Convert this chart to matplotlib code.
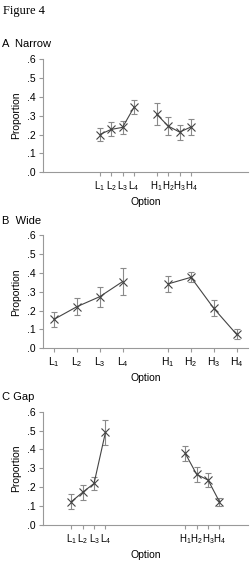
import matplotlib
matplotlib.use('Agg')
import matplotlib.pyplot as plt

plt.rcParams['font.family'] = ['Liberation Sans', 'DejaVu Sans']
plt.rcParams['mathtext.default'] = 'regular'

options = ['L$_1$', 'L$_2$', 'L$_3$', 'L$_4$', 'H$_1$', 'H$_2$', 'H$_3$', 'H$_4$']
yticks = [0, 0.1, 0.2, 0.3, 0.4, 0.5, 0.6]
ytick_labels = ['.0', '.1', '.2', '.3', '.4', '.5', '.6']

# panel A: narrow
narrow_x = [5, 6, 7, 8, 10, 11, 12, 13]
narrow_y = [0.200, 0.227, 0.238, 0.344, 0.307, 0.245, 0.213, 0.240]
narrow_err = [0.035, 0.037, 0.035, 0.037, 0.058, 0.050, 0.040, 0.040]

# panel B: wide
wide_x = [0.5, 1.5, 2.5, 3.5, 5.5, 6.5, 7.5, 8.5]
wide_y = [0.154, 0.221, 0.274, 0.354, 0.342, 0.377, 0.212, 0.074]
wide_err = [0.040, 0.046, 0.053, 0.072, 0.044, 0.027, 0.042, 0.027]

# panel C: gap
gap_x = [2.5, 3.5, 4.5, 5.5, 12.5, 13.5, 14.5, 15.5]
gap_y = [0.123, 0.173, 0.220, 0.490, 0.379, 0.268, 0.238, 0.123]
gap_err = [0.039, 0.038, 0.034, 0.065, 0.042, 0.039, 0.039, 0.020]

W, H = 250, 579
fig = plt.figure(figsize=(W/100, H/100), dpi=100)

def ax_rect(left, right, top, bottom):
	return [left/W, 1 - bottom/H, (right-left)/W, (bottom-top)/H]

def plotter(ax, x, y, err, xmax, title, title_y, xfs):
	for sl in (slice(0, 4), slice(4, 8)):
		ax.errorbar(x[sl], y[sl], yerr=err[sl], fmt='none', ecolor='#8a8a8a',
			elinewidth=0.8, capsize=2, capthick=0.8, zorder=2)
		ax.plot(x[sl], y[sl], color='#444444', lw=0.8, marker='x',
			markersize=6, markeredgewidth=0.8, zorder=3)
	ax.set_xlim(0, xmax)
	ax.set_ylim(0, 0.6)
	ax.set_xticks(x)
	ax.set_xticklabels(options, fontsize=xfs)
	ax.set_yticks(yticks)
	ax.set_yticklabels(ytick_labels, fontsize=7.5)
	ax.set_xlabel('Option', fontsize=7.5, labelpad=3)
	ax.set_ylabel('Proportion', fontsize=7.5, labelpad=4)
	ax.spines['top'].set_visible(False)
	ax.spines['right'].set_visible(False)
	for s in ('left', 'bottom'):
		ax.spines[s].set_color('#999999')
		ax.spines[s].set_linewidth(0.8)
	ax.tick_params(length=3, width=0.8, color='#999999', pad=2)
	fig.text(2/W, 1 - title_y/H, title, fontsize=8, va='center', ha='left')

fig.text(3/W, 1 - 11/H, 'Figure 4', family='Liberation Serif', fontsize=9,
	va='center', ha='left')

ax1 = fig.add_axes(ax_rect(42.7, 248, 59, 172.3))
plotter(ax1, narrow_x, narrow_y, narrow_err, 18, 'A  Narrow', 44, 7)
ax2 = fig.add_axes(ax_rect(42.7, 248, 235.3, 348.3))
plotter(ax2, wide_x, wide_y, wide_err, 9, 'B  Wide', 220.7, 7.5)
ax3 = fig.add_axes(ax_rect(42.7, 248, 411.7, 525))
plotter(ax3, gap_x, gap_y, gap_err, 18, 'C Gap', 397, 7)

fig.savefig('out.png', dpi=100)
